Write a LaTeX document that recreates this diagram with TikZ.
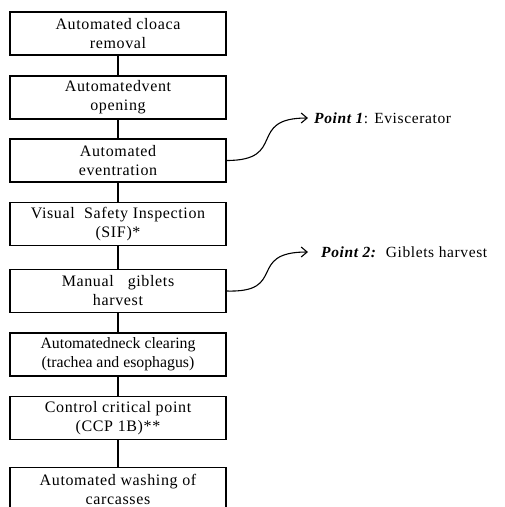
\documentclass[tikz,border=0pt]{standalone}
\usepackage{fontspec}
\setmainfont{Liberation Serif}[LetterSpace=4]
\newfontfamily\tightserif{Liberation Serif}
\usetikzlibrary{arrows.meta}
\tikzset{
  stepbox/.style={draw=black, line width=1.3pt, minimum width=216pt, minimum height=43pt,
    inner sep=0pt, align=center, font=\fontsize{16}{19}\selectfont, text=black},
  link/.style={draw=black, line width=1.3pt},
  callout/.style={draw=black, line width=1.1pt, -{Straight Barb[length=6pt,width=10pt,line width=1.1pt]}},
  pointlbl/.style={anchor=west, inner sep=0pt, font=\fontsize{15.5}{19}\selectfont}
}
\begin{document}
\begin{tikzpicture}[x=1pt,y=-1pt]
\useasboundingbox (0,0) rectangle (505,507);
\clip (0,0) rectangle (505,507);
\node[stepbox] (b1) at (118,33.5) {Automated cloaca\\removal};
\node[stepbox] (b2) at (118,97.5) {Automatedvent\\opening};
\node[stepbox] (b3) at (118,160.5) {Automated\\eventration};
\node[stepbox] (b4) at (118,224) {Visual\ \ Safety Inspection\\(SIF)*};
\node[stepbox] (b5) at (118,291) {Manual\ \ \ giblets\\harvest};
\node[stepbox, font=\tightserif\fontsize{15.8}{19}\selectfont] (b6) at (118,354.5) {Automatedneck clearing\\(trachea and esophagus)};
\node[stepbox] (b7) at (118,418) {Control critical point\\(CCP 1B)**};
\node[stepbox] (b8) at (118,489) {Automated washing of\\carcasses};
\draw[link] (b1.south) -- (b2.north);
\draw[link] (b2.south) -- (b3.north);
\draw[link] (b3.south) -- (b4.north);
\draw[link] (b4.south) -- (b5.north);
\draw[link] (b5.south) -- (b6.north);
\draw[link] (b6.south) -- (b7.north);
\draw[link] (b7.south) -- (b8.north);
\node[pointlbl] (p1) at (314,118) {\textbf{\textit{Point 1}}: Eviscerator};
\node[pointlbl] (p2) at (321,252) {\textbf{\textit{Point\ 2:}}\hspace{9pt}Giblets harvest};
\draw[callout, shorten >=6pt] (b3.east) .. controls (288,160.5) and (246,118) .. (p1.west);
\draw[callout, shorten >=13pt] (b5.east) .. controls (288,293) and (246,252) .. (p2.west);
\end{tikzpicture}
\end{document}
